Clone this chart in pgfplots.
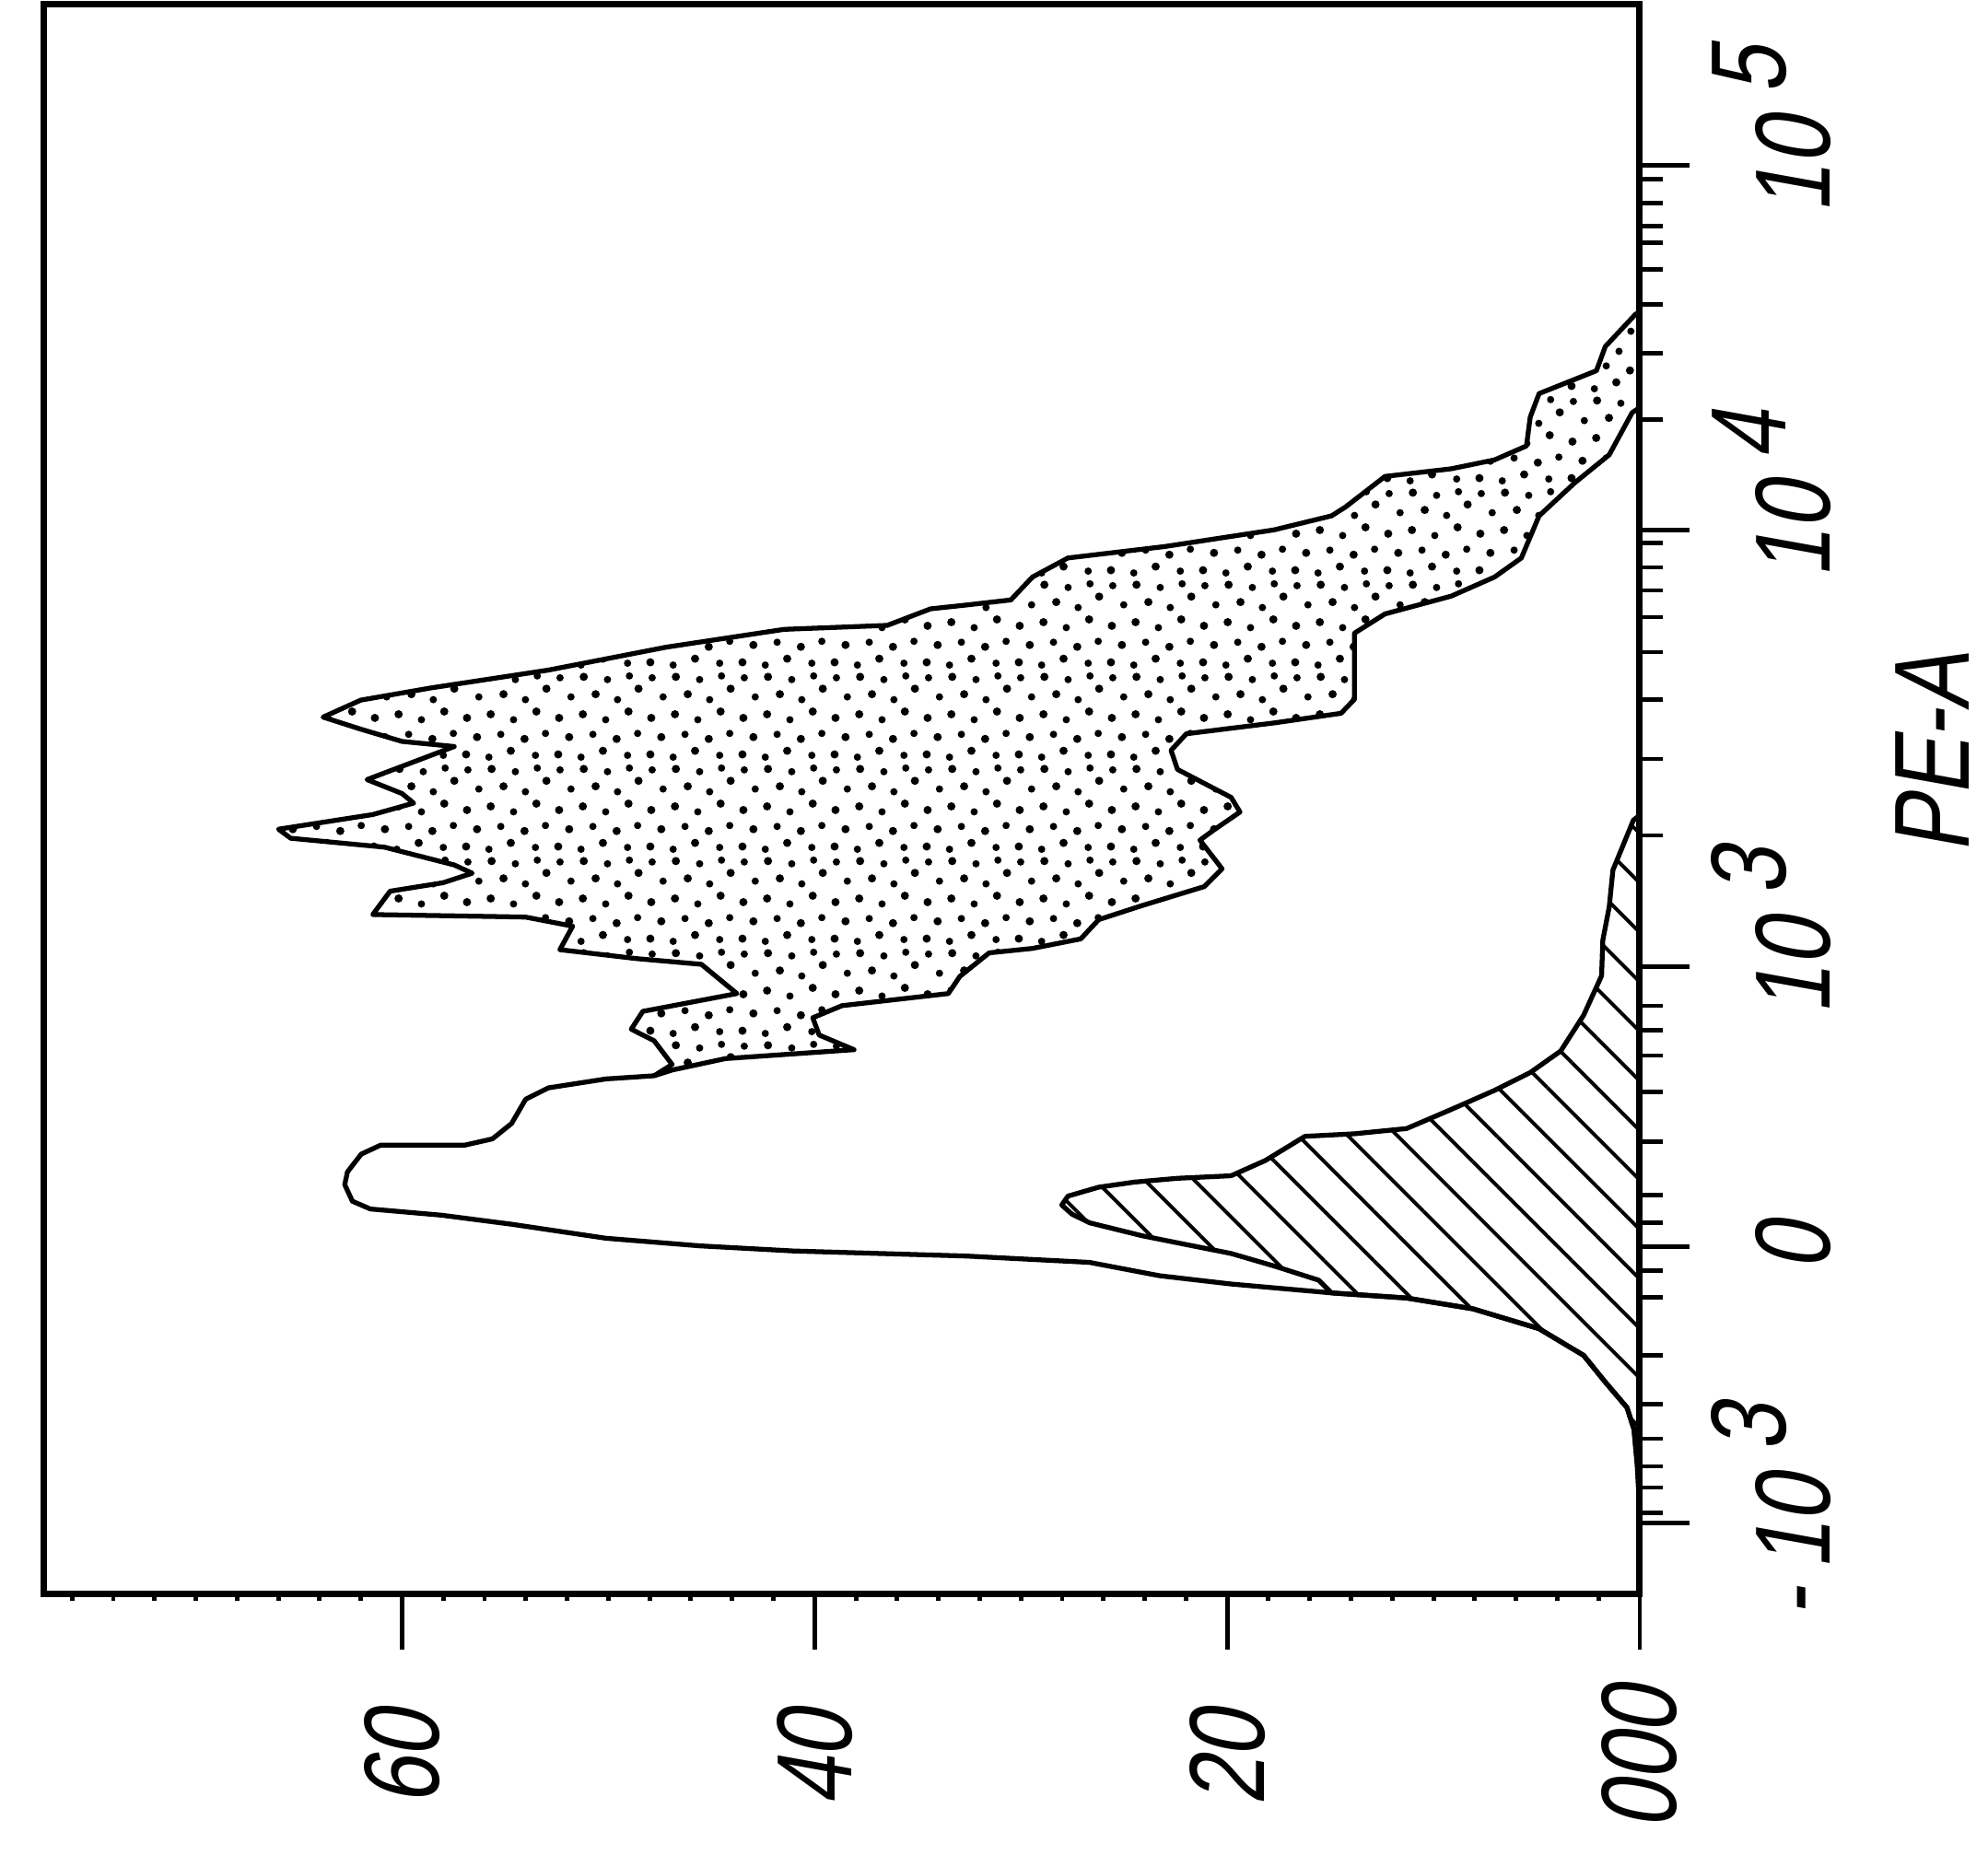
\documentclass[border=0pt]{standalone}
\usepackage{fontspec}
\usepackage{pgfplots}
\pgfplotsset{compat=1.18}
\usetikzlibrary{patterns,patterns.meta}
\newfontfamily\lab[FakeStretch=0.8,FakeSlant=0.18]{Liberation Sans}
\newcommand\lbl{\lab\fontsize{33}{36}\selectfont}
\newcommand\ex[1]{\rlap{\hspace{0.22em}\smash{\raisebox{0.42em}{#1}}}}
\pgfdeclarepatternformonly{stipple}{\pgfpointorigin}{\pgfpoint{1cm}{1cm}}{\pgfpoint{1cm}{1cm}}{%
  \pgfpathcircle{\pgfpoint{0.06cm}{0.08cm}}{0.045cm}
  \pgfpathcircle{\pgfpoint{0.31cm}{0.05cm}}{0.04cm}
  \pgfpathcircle{\pgfpoint{0.55cm}{0.12cm}}{0.045cm}
  \pgfpathcircle{\pgfpoint{0.82cm}{0.07cm}}{0.04cm}
  \pgfpathcircle{\pgfpoint{0.18cm}{0.27cm}}{0.045cm}
  \pgfpathcircle{\pgfpoint{0.44cm}{0.30cm}}{0.04cm}
  \pgfpathcircle{\pgfpoint{0.70cm}{0.25cm}}{0.045cm}
  \pgfpathcircle{\pgfpoint{0.93cm}{0.31cm}}{0.04cm}
  \pgfpathcircle{\pgfpoint{0.07cm}{0.48cm}}{0.045cm}
  \pgfpathcircle{\pgfpoint{0.33cm}{0.52cm}}{0.045cm}
  \pgfpathcircle{\pgfpoint{0.58cm}{0.46cm}}{0.04cm}
  \pgfpathcircle{\pgfpoint{0.83cm}{0.55cm}}{0.045cm}
  \pgfpathcircle{\pgfpoint{0.20cm}{0.71cm}}{0.04cm}
  \pgfpathcircle{\pgfpoint{0.47cm}{0.74cm}}{0.045cm}
  \pgfpathcircle{\pgfpoint{0.71cm}{0.68cm}}{0.04cm}
  \pgfpathcircle{\pgfpoint{0.94cm}{0.80cm}}{0.045cm}
  \pgfpathcircle{\pgfpoint{0.08cm}{0.92cm}}{0.04cm}
  \pgfpathcircle{\pgfpoint{0.34cm}{0.93cm}}{0.045cm}
  \pgfpathcircle{\pgfpoint{0.60cm}{0.90cm}}{0.04cm}
  \pgfpathcircle{\pgfpoint{0.84cm}{0.94cm}}{0.04cm}
  \pgfusepath{fill}}
\pgfplotsset{
  frame/.style={at={(0,0)}, anchor=south west, scale only axis,
    width=17.32cm, height=17.26cm,
    xmin=0, xmax=77.35, x dir=reverse, ymin=0, ymax=1000,
    axis line style={line width=2pt},
    tick align=outside,
    tick style={black, line width=1.4pt}},
}
\begin{document}
\begin{tikzpicture}
\path[use as bounding box] (-0.48cm,-2.96cm) rectangle (21.10cm,17.31cm);
\begin{axis}[frame, axis on top,
  xtick=\empty,
  ytick={45,218.7,394.6,669.4,898.7},
  yticklabels={\llap{-\,}10\ex{3}, 0, 10\ex{3}, 10\ex{4}, 10\ex{5}},
  minor ytick={51.0,67.2,80.5,97.9,119.4,150.1,186.6,203.9,233.5,251.4,285.0,315.8,338.9,354.6,370.2,477.4,525.5,563.1,592.7,614.7,631.5,646.0,661.6,739.0,780.5,811.5,833.5,850.3,860.7,874.9,890.4},
  ytick pos=right, yticklabel pos=right,
  major tick length=0.54cm, minor tick length=0.25cm,
  yticklabel style={font=\lbl, rotate=90, anchor=center},
  yticklabel shift=1.13cm,
  ylabel={PE-A},
  every axis y label/.style={at={(rel axis cs:1,0.529)}, xshift=3.18cm, rotate=90, anchor=center, font=\lbl},
]
% stippled histogram
\addplot[draw=black, line width=1.5pt, line join=round, pattern=stipple, pattern color=black] coordinates {
(0,806) (0.19,805.4) (1.67,784.9) (2.10,769.7) (4.88,755.3) (5.31,740.5) (5.49,722.4) (7.04,713.6) (9.14,708.0) (12.35,703.2) (14.26,684.0) (14.94,678.4) (17.72,669.6) (23.02,659.1) (27.72,651.9) (29.44,639.9) (30.49,625.5) (32.65,622.3) (34.38,619.9) (36.48,609.5) (41.48,607.0) (47.19,595.8) (52.90,581.4) (58.58,570.2) (62.0,562.5) (63.83,551.8) (62.0,544.2) (60.0,536.5) (57.47,533.3) (59.75,522.1) (61.70,512.5) (60.0,503.7) (59.44,497.7) (61.42,490.5) (65.99,481.3) (65.40,475.6) (60.86,470.0) (57.47,458.8) (56.60,453.6) (58.02,447.6) (60.58,442.3) (61.42,427.6) (55.74,426.4) (54.01,426.0) (51.73,420.3) (52.35,405.5) (48.64,399.9) (45.49,396.3) (43.77,377.9) (48.33,366.7) (48.89,355.5) (47.78,348.2) (46.91,333.3) (47.78,326.2) (36.30,265.7) (14.69,197.6) (3.58,169.5) (0,137.5)
} -- cycle;
% open histogram
\addplot[draw=black, line width=1.5pt, line join=round, fill=white] coordinates {
(0,746.5) (0.37,743.3) (1.48,716.8) (3.15,699.2) (4.88,678.4) (5.74,651.9) (7.04,639.9) (9.14,627.9) (12.35,616.7) (13.83,604.6) (13.83,563.0) (14.48,554.2) (17.69,548.2) (21.98,541.3) (22.72,530.9) (22.41,518.9) (19.81,501.3) (19.38,492.1) (20.68,480.5) (21.32,474.4) (20.25,456.4) (21.11,445.2) (24.14,433.2) (26.23,424.4) (27.10,412.3) (29.44,406.3) (31.54,403.5) (32.96,388.7) (33.52,377.9) (38.67,370.3) (40.09,362.7) (39.78,351.8) (38.09,342.6) (44.32,337.0) (46.91,329.8) (47.78,326.2) (50.12,324.2) (52.90,318.6) (54.01,311.4) (54.69,296.2) (55.62,286.5) (56.98,282.5) (61.05,282.5) (61.98,276.9) (62.65,265.7) (62.78,257.7) (62.41,247.3) (61.54,242.4) (58.09,238.5) (54.69,232.8) (50.12,224.0) (45.56,219.2) (41.05,216.0) (32.65,212.8) (26.67,208.8) (23.27,200.4) (19.81,195.2) (14.94,189.6) (11.30,186.4) (8.09,179.6) (4.88,167.1) (2.72,150.3) (1.67,133.5) (0.62,117.5) (0.28,103.8) (0.12,81.4) (0,53.4)
} -- cycle;
% hatched histogram
\addplot[draw=black, line width=1.5pt, line join=round, pattern={Lines[angle=-45,distance=0.38cm,line width=1.1pt]}, pattern color=black] coordinates {
(0,490.1) (0.31,486.9) (1.30,455.6) (1.48,432.4) (1.79,411.5) (1.85,389.1) (2.72,364.3) (3.83,341.8) (5.31,328.2) (7.04,317.0) (9.14,305.0) (11.30,293.0) (13.83,289.7) (16.23,288.1) (18.15,272.9) (19.81,263.3) (22.41,261.7) (24.51,259.3) (26.23,256.1) (27.72,250.5) (28.02,244.9) (27.53,239.2) (26.67,233.7) (26.23,232.3) (24.14,225.6) (21.98,220.0) (19.81,214.4) (17.69,206.4) (15.56,197.6) (14.94,189.6) (11.30,186.4) (8.09,179.6) (4.88,167.1) (2.72,150.3) (1.67,133.5) (0.62,117.5) (0.28,103.8) (0.12,81.4) (0,53.4)
} -- cycle;
\end{axis}
\begin{axis}[frame,
  ytick=\empty,
  xtick={0,20,40,60}, xticklabels={000,20,40,60},
  minor xtick={2,4,...,76},
  xtick pos=left,
  major tick length=0.6cm, minor tick length=0.07cm,
  xticklabel style={font=\lbl, rotate=90, anchor=center},
  xticklabel shift=1.18cm,
]
\end{axis}
\end{tikzpicture}
\end{document}
